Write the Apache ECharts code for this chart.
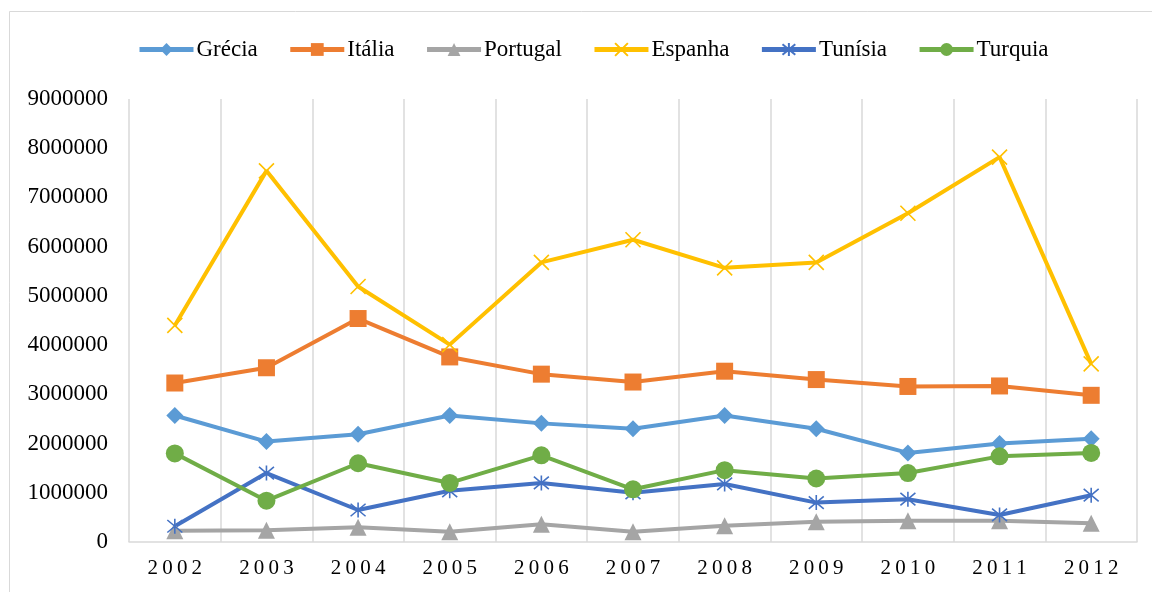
<!DOCTYPE html>
<html>
<head>
<meta charset="utf-8">
<script src="https://cdn.jsdelivr.net/npm/echarts@6/dist/echarts.min.js"></script>
<style>
  html, body { margin: 0; padding: 0; background: #fff; }
  #chart { width: 1152px; height: 592px; }
</style>
</head>
<body>
<div id="chart"></div>
<script>
// Anos no eixo x
var years = ['2002', '2003', '2004', '2005', '2006', '2007', '2008', '2009', '2010', '2011', '2012'];

var grecia   = [2570000, 2040000, 2190000, 2570000, 2410000, 2300000, 2570000, 2300000, 1810000, 2000000, 2100000];
var italia   = [3230000, 3540000, 4540000, 3760000, 3410000, 3250000, 3470000, 3300000, 3160000, 3170000, 2980000];
var portugal = [230000, 240000, 300000, 210000, 360000, 210000, 330000, 410000, 430000, 430000, 380000];
var espanha  = [4400000, 7540000, 5190000, 4010000, 5680000, 6140000, 5570000, 5680000, 6680000, 7820000, 3620000];
var tunisia  = [320000, 1400000, 650000, 1040000, 1200000, 1000000, 1180000, 800000, 870000, 550000, 950000];
var turquia  = [1800000, 840000, 1600000, 1200000, 1760000, 1070000, 1460000, 1290000, 1400000, 1740000, 1810000];

var yTicks = { min: 0, max: 9000000, interval: 1000000 };

var X_PATH = 'path://M0,0 L10,10 M10,0 L0,10';
var STAR_PATH = 'path://M0,0 L10,10 M10,0 L0,10 M5,-1 L5,11';

function line(name, data, color, symbol, size, strokeOnly) {
  return {
    name: name, type: 'line', data: data,
    symbol: symbol, symbolSize: size,
    lineStyle: { color: color, width: 4 },
    itemStyle: strokeOnly
      ? { color: 'rgba(0,0,0,0)', borderColor: color, borderWidth: 1.6 }
      : { color: color },
    emphasis: { disabled: true }
  };
}

var chart = echarts.init(document.getElementById('chart'));
chart.setOption({
  animation: false,
  backgroundColor: '#fff',
  textStyle: { fontFamily: '"Liberation Serif", "Times New Roman", serif' },
  graphic: [{
    type: 'rect', silent: true,
    shape: { x: 9.5, y: 11.5, width: 1200, height: 700 },
    style: { fill: 'none', stroke: '#d9d9d9', lineWidth: 1 }
  }],
  legend: {
    left: 132, top: 33,
    itemWidth: 54, itemHeight: 16, itemGap: 30,
    lineStyle: { width: 5 },
    textStyle: { fontSize: 23, color: '#000', padding: [0, 0, 0, -2] },
    data: ['Grécia', 'Itália', 'Portugal', 'Espanha', 'Tunísia', 'Turquia']
  },
  grid: { left: 129, right: 15, top: 99, bottom: 50, containLabel: false },
  xAxis: {
    type: 'category', data: years, boundaryGap: true,
    axisLine: { lineStyle: { color: '#d9d9d9', width: 1.5 } },
    axisTick: { show: false },
    axisLabel: {
      color: '#000', fontSize: 21, margin: 16,
      formatter: function (v) { return v.split('').join('\u2009'); }
    },
    splitLine: { show: true, lineStyle: { color: '#d9d9d9', width: 1.5 } }
  },
  yAxis: {
    type: 'value', min: yTicks.min, max: yTicks.max, interval: yTicks.interval,
    axisLine: { show: false }, axisTick: { show: false },
    splitLine: { show: false },
    axisLabel: {
      color: '#000', fontSize: 23, margin: 21,
      formatter: function (v) { return String(v); }
    }
  },
  series: [
    line('Grécia', grecia, '#5B9BD5', 'diamond', 17),
    line('Itália', italia, '#ED7D31', 'rect', 17),
    line('Portugal', portugal, '#A5A5A5', 'triangle', 17),
    line('Espanha', espanha, '#FFC000', X_PATH, 15, true),
    line('Tunísia', tunisia, '#4472C4', STAR_PATH, 15, true),
    line('Turquia', turquia, '#70AD47', 'circle', 18)
  ]
});
</script>
</body>
</html>
